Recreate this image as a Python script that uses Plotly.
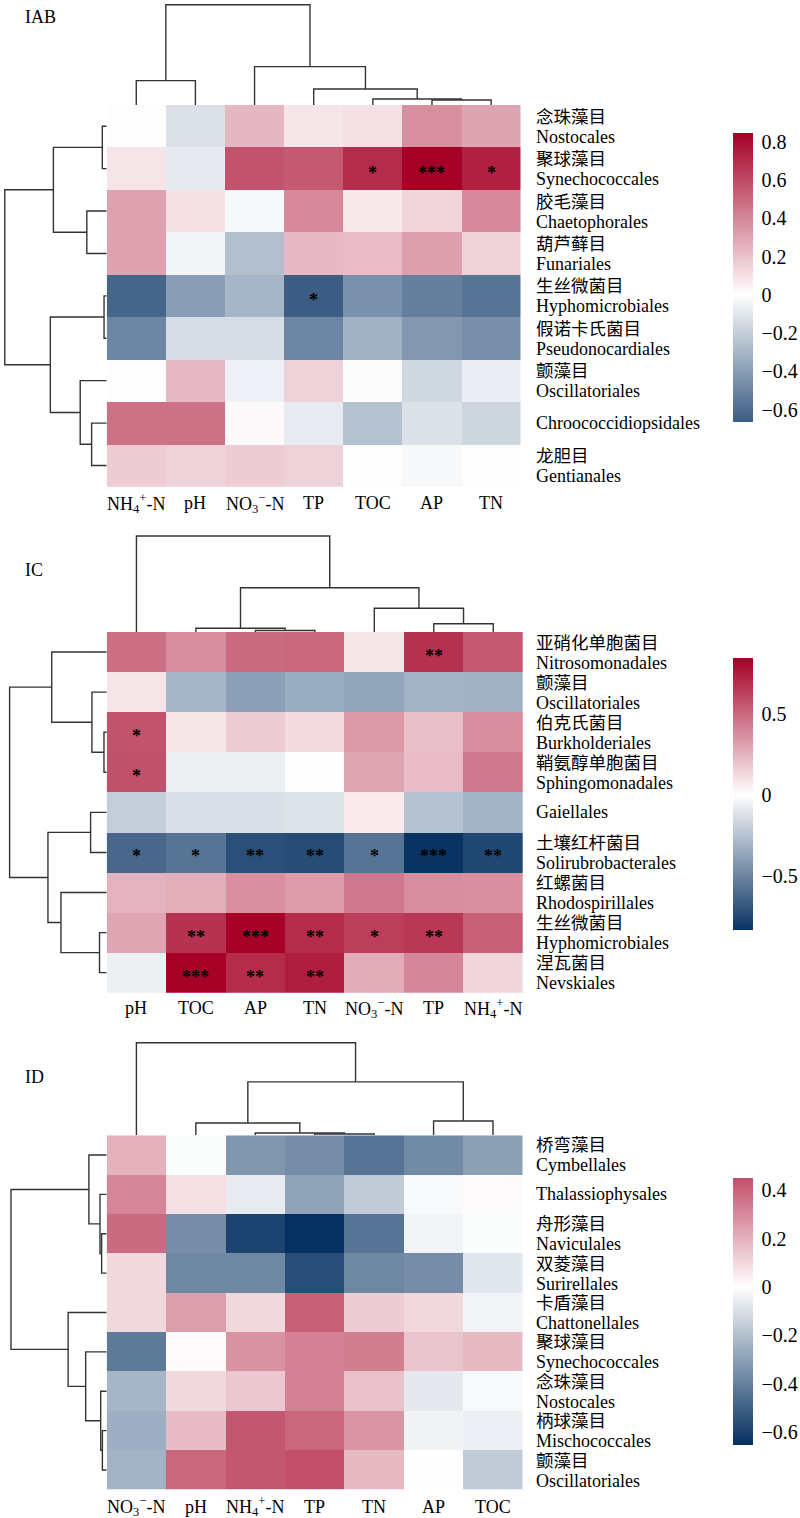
import plotly.graph_objects as go

W, H = 800, 1518

# ------------------------------------------------------------------ data
IAB_COLS = ["NH<sub>4</sub><sup>+</sup>-N", "pH", "NO<sub>3</sub><sup>−</sup>-N", "TP", "TOC", "AP", "TN"]
IAB_ROWS_CN = ["念珠藻目", "聚球藻目", "胶毛藻目", "葫芦藓目", "生丝微菌目", "假诺卡氏菌目", "颤藻目", "", "龙胆目"]
IAB_ROWS_EN = ["Nostocales", "Synechococcales", "Chaetophorales", "Funariales", "Hyphomicrobiales",
               "Pseudonocardiales", "Oscillatoriales", "Chroococcidiopsidales", "Gentianales"]
IAB_VALUES = [
    [0.00, -0.12, 0.24, 0.085, 0.10, 0.37, 0.30],
    [0.09, -0.085, 0.57, 0.55, 0.70, 0.847, 0.74],
    [0.31, 0.095, -0.03, 0.39, 0.075, 0.14, 0.39],
    [0.31, -0.04, -0.26, 0.23, 0.22, 0.32, 0.15],
    [-0.63, -0.40, -0.30, -0.665, -0.45, -0.52, -0.57],
    [-0.50, -0.14, -0.14, -0.50, -0.32, -0.42, -0.46],
    [0.00, 0.23, -0.06, 0.15, 0.01, -0.16, -0.07],
    [0.47, 0.47, 0.02, -0.08, -0.25, -0.12, -0.17],
    [0.17, 0.15, 0.17, 0.15, 0.00, -0.03, 0.00],
]
IAB_SIG = [(1, 4, "*"), (1, 5, "***"), (1, 6, "*"), (4, 3, "*")]
IAB_COL_MERGES = [(5, 6, 0.05), (4, 7, 0.06), (3, 8, 0.16), (0, 1, 0.243), (2, 9, 0.383), (10, 11, 1.0)]
IAB_ROW_MERGES = [(4, 5, 0.026), (0, 1, 0.043), (7, 8, 0.148), (2, 3, 0.195), (6, 11, 0.26),
                  (10, 12, 0.523), (9, 13, 0.553), (14, 15, 1.0)]
IAB_TICKS = [-0.6, -0.4, -0.2, 0, 0.2, 0.4, 0.6, 0.8]

IC_COLS = ["pH", "TOC", "AP", "TN", "NO<sub>3</sub><sup>−</sup>-N", "TP", "NH<sub>4</sub><sup>+</sup>-N"]
IC_ROWS_CN = ["亚硝化单胞菌目", "颤藻目", "伯克氏菌目", "鞘氨醇单胞菌目", "", "土壤红杆菌目", "红螺菌目", "生丝微菌目", "涅瓦菌目"]
IC_ROWS_EN = ["Nitrosomonadales", "Oscillatoriales", "Burkholderiales", "Sphingomonadales", "Gaiellales",
              "Solirubrobacterales", "Rhodospirillales", "Hyphomicrobiales", "Nevskiales"]
IC_VALUES = [
    [0.48, 0.38, 0.49, 0.50, 0.09, 0.68, 0.55],
    [0.09, -0.30, -0.39, -0.34, -0.37, -0.31, -0.32],
    [0.57, 0.09, 0.17, 0.12, 0.34, 0.21, 0.38],
    [0.58, -0.06, -0.06, 0.00, 0.30, 0.22, 0.45],
    [-0.20, -0.13, -0.13, -0.12, 0.07, -0.25, -0.31],
    [-0.62, -0.57, -0.72, -0.73, -0.57, -0.833, -0.75],
    [0.25, 0.27, 0.37, 0.33, 0.45, 0.38, 0.37],
    [0.30, 0.68, 0.84, 0.70, 0.64, 0.66, 0.53],
    [-0.06, 0.846, 0.70, 0.75, 0.28, 0.40, 0.14],
]
IC_SIG = [(0, 5, "**"), (2, 0, "*"), (3, 0, "*"),
          (5, 0, "*"), (5, 1, "*"), (5, 2, "**"), (5, 3, "**"), (5, 4, "*"), (5, 5, "***"), (5, 6, "**"),
          (7, 1, "**"), (7, 2, "***"), (7, 3, "**"), (7, 4, "*"), (7, 5, "**"),
          (8, 1, "***"), (8, 2, "**"), (8, 3, "**")]
IC_COL_MERGES = [(2, 3, 0.016), (1, 7, 0.039), (5, 6, 0.086), (4, 9, 0.247), (8, 10, 0.461), (0, 11, 1.0)]
IC_ROW_MERGES = [(2, 3, 0.028), (7, 8, 0.074), (1, 9, 0.152), (4, 5, 0.166), (6, 10, 0.471),
                 (0, 11, 0.566), (12, 13, 0.605), (14, 15, 1.0)]
IC_TICKS = [-0.5, 0, 0.5]

ID_COLS = ["NO<sub>3</sub><sup>−</sup>-N", "pH", "NH<sub>4</sub><sup>+</sup>-N", "TP", "TN", "AP", "TOC"]
ID_ROWS_CN = ["桥弯藻目", "", "舟形藻目", "双菱藻目", "卡盾藻目", "聚球藻目", "念珠藻目", "柄球藻目", "颤藻目"]
ID_ROWS_EN = ["Cymbellales", "Thalassiophysales", "Naviculales", "Surirellales", "Chattonellales",
              "Synechococcales", "Nostocales", "Mischococcales", "Oscillatoriales"]
ID_VALUES = [
    [0.20, -0.01, -0.33, -0.36, -0.44, -0.37, -0.30],
    [0.31, 0.08, -0.065, -0.29, -0.16, -0.02, 0.01],
    [0.38, -0.36, -0.59, -0.653, -0.44, -0.035, -0.01],
    [0.10, -0.38, -0.38, -0.56, -0.38, -0.36, -0.075],
    [0.10, 0.25, 0.10, 0.41, 0.13, 0.10, -0.035],
    [-0.42, 0.01, 0.28, 0.32, 0.33, 0.15, 0.18],
    [-0.23, 0.10, 0.14, 0.32, 0.16, -0.07, -0.015],
    [-0.25, 0.17, 0.43, 0.39, 0.27, -0.04, -0.05],
    [-0.24, 0.39, 0.43, 0.45, 0.18, 0.00, -0.16],
]
ID_SIG = []
ID_COL_MERGES = [(3, 4, 0.014), (2, 7, 0.025), (1, 8, 0.133), (5, 6, 0.155), (9, 10, 0.577), (0, 11, 1.0)]
ID_ROW_MERGES = [(7, 8, 0.045), (2, 3, 0.053), (6, 9, 0.063), (1, 10, 0.07), (0, 12, 0.186),
                 (5, 11, 0.22), (4, 14, 0.403), (13, 15, 1.0)]
ID_TICKS = [-0.6, -0.4, -0.2, 0, 0.2, 0.4]

# ------------------------------------------------------------------ layout geometry (pixels)
PANELS = [
    dict(name="IAB", cols=IAB_COLS, cn=IAB_ROWS_CN, en=IAB_ROWS_EN, z=IAB_VALUES, sig=IAB_SIG,
         cm=IAB_COL_MERGES, rm=IAB_ROW_MERGES, ticks=IAB_TICKS,
         hx0=106.7, hx1=520.7, hy0=105.0, hy1=486.7, troot=4.7, lroot=4.8,
         lab_y=17.5, collab_y=503.3, cb_y0=133, cb_y1=422),
    dict(name="IC", cols=IC_COLS, cn=IC_ROWS_CN, en=IC_ROWS_EN, z=IC_VALUES, sig=IC_SIG,
         cm=IC_COL_MERGES, rm=IC_ROW_MERGES, ticks=IC_TICKS,
         hx0=106.7, hx1=523.0, hy0=632.0, hy1=992.7, troot=536.0, lroot=9.6,
         lab_y=570.0, collab_y=1008.3, cb_y0=658, cb_y1=930),
    dict(name="ID", cols=ID_COLS, cn=ID_ROWS_CN, en=ID_ROWS_EN, z=ID_VALUES, sig=ID_SIG,
         cm=ID_COL_MERGES, rm=ID_ROW_MERGES, ticks=ID_TICKS,
         hx0=106.7, hx1=522.7, hy0=1135.3, hy1=1489.7, troot=1042.7, lroot=11.0,
         lab_y=1077.0, collab_y=1506.7, cb_y0=1178, cb_y1=1445),
]

SERIF = "Liberation Serif"
CJK = "Noto Sans CJK SC"
LINE_COLOR = "#333333"
BLUE = (5, 48, 97)
RED = (165, 0, 38)


def fx(x):
    return x / W


def fy(y):
    return 1 - y / H


def color_at(f):
    f = max(-1.0, min(1.0, f))
    end = RED if f >= 0 else BLUE
    a = abs(f)
    c = [round(255 + (e - 255) * a) for e in end]
    return f"rgb({c[0]},{c[1]},{c[2]})"


def make_scale(zmin, zmax, m, n=80):
    return [[i / (n - 1), color_at((zmin + (zmax - zmin) * i / (n - 1)) / m)] for i in range(n)]


def dendro_segments(n, merges):
    pos = [float(i) for i in range(n)]
    hgt = [0.0] * n
    a_s, h_s = [], []
    for a, b, h in merges:
        pa, pb = pos[a], pos[b]
        a_s += [pa, pa, pb, pb, None]
        h_s += [hgt[a], h, h, hgt[b], None]
        pos.append((pa + pb) / 2)
        hgt.append(h)
    return a_s, h_s


def sfx(i):
    return "" if i == 1 else str(i)


fig = go.Figure()
layout = {}
annotations = []

for k, p in enumerate(PANELS):
    ih, it, il = 3 * k + 1, 3 * k + 2, 3 * k + 3
    z = p["z"]
    nr, nc = len(z), len(z[0])
    flat = [v for row in z for v in row]
    zmin, zmax = min(flat), max(flat)
    m = max(abs(zmin), abs(zmax))

    # heatmap
    fig.add_trace(go.Heatmap(
        z=z, x=list(range(nc)), y=list(range(nr)),
        xaxis="x" + sfx(ih), yaxis="y" + sfx(ih),
        zmin=zmin, zmax=zmax, colorscale=make_scale(zmin, zmax, m),
        hoverinfo="skip",
        colorbar=dict(
            x=fx(733), xanchor="left", xpad=0, ypad=0,
            y=fy((p["cb_y0"] + p["cb_y1"]) / 2), yanchor="middle",
            len=p["cb_y1"] - p["cb_y0"], lenmode="pixels",
            thickness=20, thicknessmode="pixels", outlinewidth=0,
            tickvals=p["ticks"], ticktext=[("−" if t < 0 else "") + (f"{abs(t):g}") for t in p["ticks"]],
            ticks="outside", ticklen=5, tickcolor="rgba(0,0,0,0)",
            tickfont=dict(family=SERIF, size=20, color="black"),
        ),
    ))
    hx_dom = [fx(p["hx0"]), fx(p["hx1"])]
    hy_dom = [fy(p["hy1"]), fy(p["hy0"])]
    base_ax = dict(showgrid=False, zeroline=False, showticklabels=False, showline=False, ticks="")
    layout["xaxis" + sfx(ih)] = dict(base_ax, domain=hx_dom, range=[-0.5, nc - 0.5],
                                     anchor="y" + sfx(ih))
    layout["yaxis" + sfx(ih)] = dict(base_ax, domain=hy_dom, range=[nr - 0.5, -0.5],
                                     anchor="x" + sfx(ih))

    # top dendrogram (columns)
    xs, hs = dendro_segments(nc, p["cm"])
    fig.add_trace(go.Scatter(x=xs, y=hs, mode="lines", xaxis="x" + sfx(it), yaxis="y" + sfx(it),
                             line=dict(color=LINE_COLOR, width=1.4), hoverinfo="skip", showlegend=False))
    span = p["hy0"] - p["troot"]
    top_px = max(0.0, p["troot"] - 3)
    layout["xaxis" + sfx(it)] = dict(base_ax, domain=hx_dom, range=[-0.5, nc - 0.5], anchor="y" + sfx(it))
    layout["yaxis" + sfx(it)] = dict(base_ax, domain=[fy(p["hy0"]), fy(top_px)],
                                     range=[0, (p["hy0"] - top_px) / span], anchor="x" + sfx(it))

    # left dendrogram (rows)
    ys, hs2 = dendro_segments(nr, p["rm"])
    fig.add_trace(go.Scatter(x=hs2, y=ys, mode="lines", xaxis="x" + sfx(il), yaxis="y" + sfx(il),
                             line=dict(color=LINE_COLOR, width=1.4), hoverinfo="skip", showlegend=False))
    lspan = p["hx0"] - p["lroot"]
    left_px = max(0.0, p["lroot"] - 3)
    layout["xaxis" + sfx(il)] = dict(base_ax, domain=[fx(left_px), fx(p["hx0"])],
                                     range=[(p["hx0"] - left_px) / lspan, 0], anchor="y" + sfx(il))
    layout["yaxis" + sfx(il)] = dict(base_ax, domain=hy_dom, range=[nr - 0.5, -0.5], anchor="x" + sfx(il))

    # panel label
    annotations.append(dict(text=p["name"], xref="paper", yref="paper", x=fx(23.4), y=fy(p["lab_y"]),
                            xanchor="left", yanchor="middle", showarrow=False,
                            font=dict(family=SERIF, size=18, color="black")))
    # column labels
    for j, lab in enumerate(p["cols"]):
        annotations.append(dict(text=lab, xref="x" + sfx(ih), yref="paper", x=j, y=fy(p["collab_y"]),
                                xanchor="center", yanchor="middle", showarrow=False,
                                font=dict(family=SERIF, size=18, color="black")))
    # row labels (Chinese name over Latin name in one text block)
    for i in range(nr):
        cn, en = p["cn"][i], p["en"][i]
        if cn:
            txt = (f"<span style='font-family:\"{CJK}\";font-size:17.5px'>{cn}</span><br>"
                   f"<span style='font-size:18px'>{en}</span>")
            annotations.append(dict(text=txt, xref="paper", yref="y" + sfx(ih), x=fx(533.5), y=i,
                                    xanchor="left", yanchor="middle", align="left", yshift=1.5,
                                    showarrow=False, font=dict(family=SERIF, size=15, color="black")))
        else:
            annotations.append(dict(text=en, xref="paper", yref="y" + sfx(ih), x=fx(533.5), y=i,
                                    xanchor="left", yanchor="middle", showarrow=False,
                                    font=dict(family=SERIF, size=18, color="black")))
    # significance stars
    for (i, j, s) in p["sig"]:
        annotations.append(dict(text="<b>" + s + "</b>", xref="x" + sfx(ih), yref="y" + sfx(ih), x=j, y=i,
                                xanchor="center", yanchor="middle", yshift=-4, showarrow=False,
                                font=dict(family=SERIF, size=18, color="black")))

fig.update_layout(
    width=W, height=H, margin=dict(l=0, r=0, t=0, b=0),
    paper_bgcolor="white", plot_bgcolor="white",
    font=dict(family=SERIF, size=18, color="black"),
    showlegend=False, annotations=annotations, **layout,
)

fig.write_html("out.html", config={"displayModeBar": False},
               post_script="document.body.style.margin='0px';document.body.style.padding='0px';")
